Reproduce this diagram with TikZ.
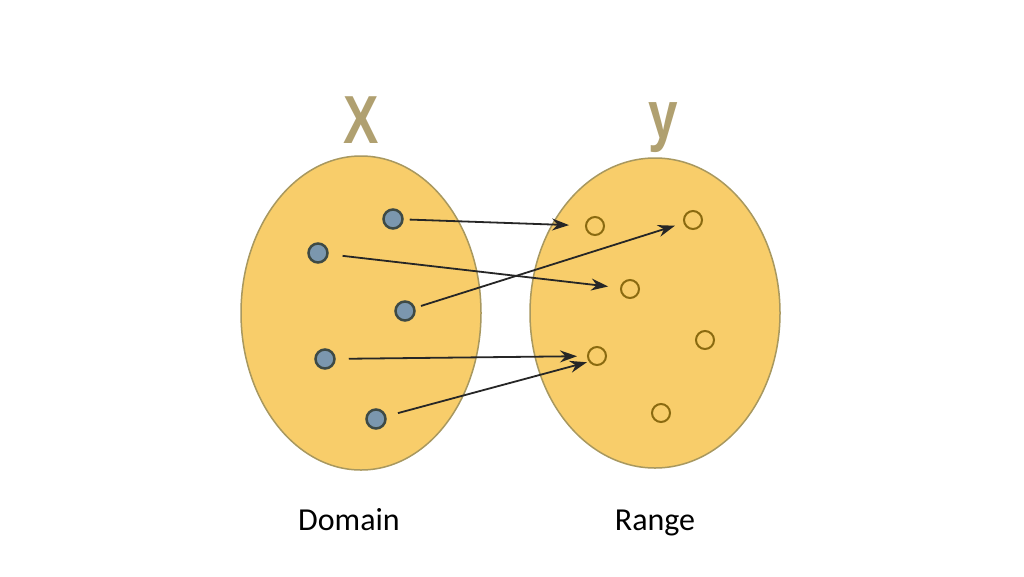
\documentclass[tikz,border=0pt]{standalone}
\usepackage{fontspec}
\setmainfont{Carlito}
\newfontfamily\letterfont{Liberation Sans}
\usetikzlibrary{arrows.meta,shapes.geometric}
\definecolor{setfill}{HTML}{F8CD6A}
\definecolor{setdraw}{HTML}{A8985F}
\definecolor{dotfill}{HTML}{7B97AE}
\definecolor{dotdraw}{HTML}{3E4A45}
\definecolor{ringdraw}{HTML}{8A6A10}
\definecolor{lettercol}{HTML}{B0A070}
\definecolor{arrowcol}{HTML}{262626}
\tikzset{
  setshape/.style={ellipse, fill=setfill, draw=setdraw, line width=1.5pt},
  dom/.style={circle, fill=dotfill, draw=dotdraw, line width=2.5pt, minimum size=19pt, inner sep=0pt},
  rng/.style={circle, fill=setfill, draw=ringdraw, line width=2pt, minimum size=18pt, inner sep=0pt},
  mapto/.style={draw=arrowcol, line width=1.8pt, -{Stealth[length=17pt,width=12pt]}},
  setname/.style={text=lettercol, font=\letterfont\bfseries\fontsize{68}{68}\selectfont, inner sep=0pt, xscale=0.78},
  caption/.style={font=\fontsize{32}{36}\selectfont, inner sep=0pt}
}
\begin{document}
\begin{tikzpicture}[x=1pt,y=-1pt]
\useasboundingbox (0,0) rectangle (1024,576);
\fill[white] (0,0) rectangle (1024,576);
% sets
\node[setshape, minimum width=240pt, minimum height=314pt, inner sep=0pt] (X) at (361,313) {};
\node[setshape, minimum width=250pt, minimum height=310pt, inner sep=0pt] (Y) at (655,313) {};
% set names
\node[setname] (xl) at (361,120) {X};
\node[setname] (yl) at (663,128) {y};
% domain elements
\node[dom] (d1) at (393,219) {};
\node[dom] (d2) at (318,253) {};
\node[dom] (d3) at (405,311) {};
\node[dom] (d4) at (325,359) {};
\node[dom] (d5) at (376,419) {};
% range elements
\node[rng] (r1) at (595,226) {};
\node[rng] (r2) at (693,220) {};
\node[rng] (r3) at (630,289) {};
\node[rng] (r4) at (705,340) {};
\node[rng] (r5) at (597,356) {};
\node[rng] (r6) at (661,413) {};
% mappings
\draw[mapto, shorten <=6pt, shorten >=16pt] (d1) -- (r1);
\draw[mapto, shorten <=14pt, shorten >=12pt] (d2) -- (r3);
\draw[mapto, shorten <=6pt, shorten >=9pt] (d3) -- (r2);
\draw[mapto, shorten <=13pt, shorten >=10pt] (d4) -- (r5);
\draw[mapto, shorten <=12pt, shorten >=2pt] (d5) -- (r5.215);
% captions
\node[caption, anchor=base] (dom) at (349,530) {Domain};
\node[caption, anchor=base] (rng) at (655,530) {Range};
\end{tikzpicture}
\end{document}
